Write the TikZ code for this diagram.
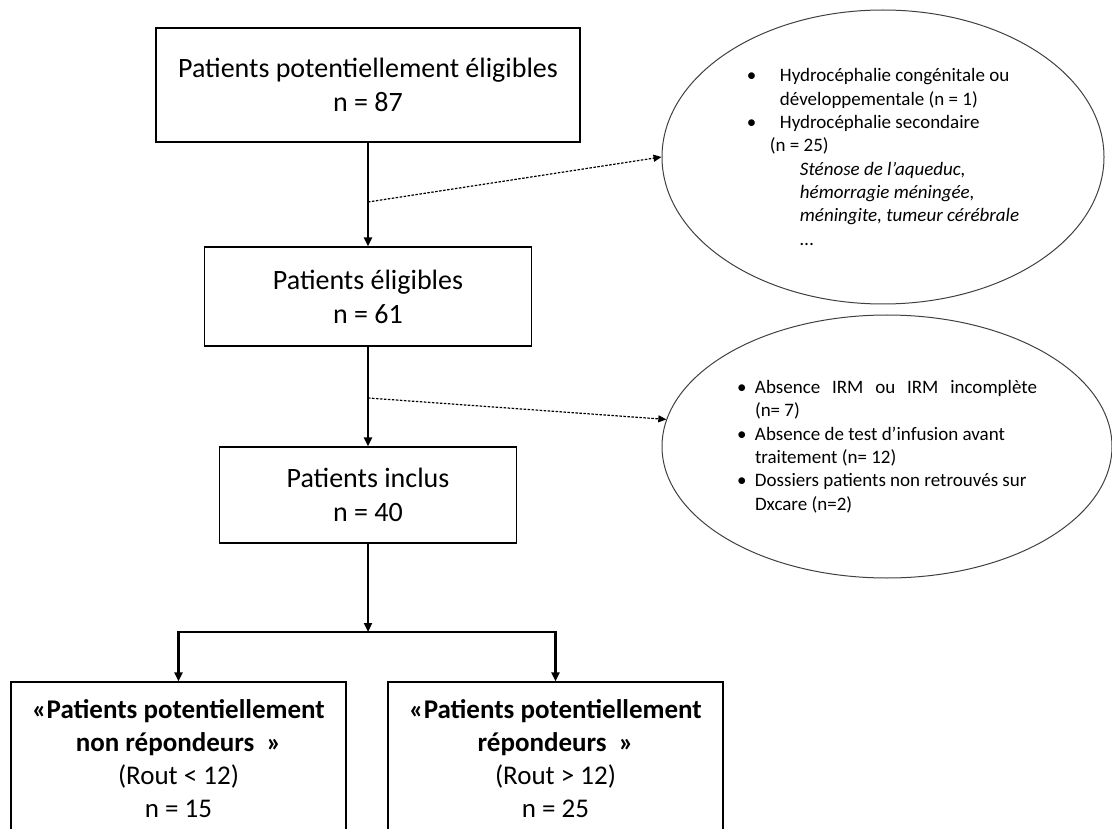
\documentclass[tikz,border=0pt]{standalone}
\usepackage{fontspec}
\setmainfont{Carlito}
\usetikzlibrary{arrows.meta,shapes.geometric}

\tikzset{
  boite/.style={draw, line width=1.4pt, align=center, inner sep=0pt,
    font=\fontsize{28}{34}\selectfont},
  groupe/.style={boite, minimum width=335pt, minimum height=154pt,
    font=\fontsize{27}{33}\selectfont},
  bulle/.style={draw=black!75, line width=1pt, ellipse, inner sep=0pt,
    font=\fontsize{19}{23.3}\selectfont},
  fleche/.style={line width=2.4pt, -{Triangle[length=9pt,width=8pt]}},
  exclu/.style={line width=1.2pt, dash pattern=on 2.5pt off 1.5pt,
    -{Triangle[length=8pt,width=7pt]}},
}
\newcommand{\puce}[1]{\makebox[#1][l]{•}}

\begin{document}
\begin{tikzpicture}[x=1pt,y=1pt]
  \useasboundingbox (0,0) rectangle (1112,-829);
  \clip (0,0) rectangle (1112,-829);

  % cascade principale
  \node[boite, minimum width=424pt, minimum height=114pt] (pot) at (368,-85)
    {Patients potentiellement éligibles\\ n = 87};
  \node[boite, minimum width=327pt, minimum height=99pt] (elig) at (368,-296.5)
    {Patients éligibles\\ n = 61};
  \node[boite, minimum width=297pt, minimum height=96pt] (incl) at (368,-495)
    {Patients inclus\\ n = 40};

  % les deux groupes
  \node[groupe] (nonrep) at (178.5,-759)
    {\textbf{«Patients potentiellement}\\ \textbf{non répondeurs\ \ »}\\ (Rout < 12)\\ n = 15};
  \node[groupe] (rep) at (555.5,-759)
    {\textbf{«Patients potentiellement}\\ \textbf{répondeurs\ \ »}\\ (Rout > 12)\\ n = 25};

  % exclusions
  \node[bulle, minimum width=442pt, minimum height=294pt, align=left] (excl1) at (883,-157)
    {\puce{33pt}Hydrocéphalie congénitale ou\\
     \hspace*{33pt}développementale (n = 1)\\
     \puce{33pt}Hydrocéphalie secondaire\\
     \hspace*{23pt}(n = 25)\\
     \hspace*{53pt}\textit{Sténose de l’aqueduc,}\\
     \hspace*{53pt}\textit{hémorragie méningée,}\\
     \hspace*{53pt}\textit{méningite, tumeur cérébrale}\hspace*{14pt}\\
     \hspace*{53pt}\textit{...}};
  \node[bulle, minimum width=450pt, minimum height=263pt] (excl2) at (887,-446.5)
    {\parbox{300pt}{%
     \hangindent=18pt\hangafter=1\puce{18pt}Absence IRM ou IRM incomplète\linebreak (n= 7)\par
     \hangindent=18pt\hangafter=1\puce{18pt}Absence de test d’infusion avant\\ traitement (n= 12)\par
     \hangindent=18pt\hangafter=1\puce{18pt}Dossiers patients non retrouvés sur\\ Dxcare (n=2)}};

  \coordinate (d1) at (368,-202);
  \coordinate (d2) at (368,-398);
  \coordinate (split) at (368,-632);

  \draw[fleche] (pot) -- (elig);
  \draw[fleche] (elig) -- (incl);
  \draw[fleche] (incl) -- (split);
  \draw[fleche] (split) -| (nonrep.north);
  \draw[fleche] (split) -| (rep.north);
  \draw[exclu] (d1) -- (excl1.west);
  \draw[exclu] (d2) -- (excl2.173);
\end{tikzpicture}
\end{document}
